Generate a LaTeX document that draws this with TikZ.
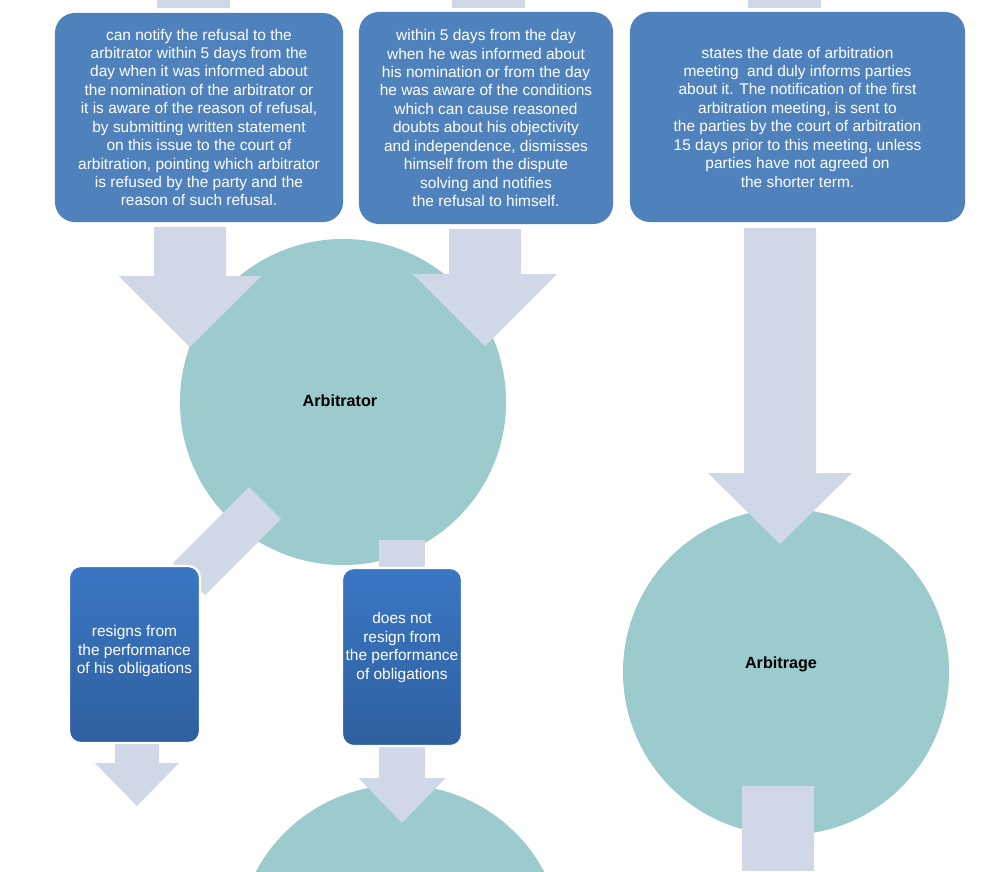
\documentclass[tikz,border=0pt]{standalone}
\usepackage{fontspec}
\setmainfont{Liberation Sans}
\usepackage{tikz}
\usetikzlibrary{shapes,positioning,calc}
\definecolor{boxblue}{HTML}{4F81BD}
\definecolor{circteal}{HTML}{9BCBCC}
\definecolor{arrowgrey}{HTML}{D0D8E7}
\definecolor{gradtop}{HTML}{3A77C4}
\definecolor{gradbot}{HTML}{2F5F9F}
\tikzstyle{stepbox} = [rectangle, rounded corners=0.5cm, fill=boxblue, text=white, align=center, inner sep=0pt, font=\fontsize{11}{13.1}\selectfont]
\tikzstyle{choice}  = [rectangle, rounded corners=0.3cm, top color=gradtop, bottom color=gradbot, draw=white, line width=1.5pt, text=white, align=center, inner sep=0pt, font=\fontsize{11}{13.1}\selectfont]
\tikzstyle{stage}   = [circle, fill=circteal, minimum size=8.15cm, inner sep=0pt, font=\fontsize{11.5}{13}\selectfont\bfseries]
\tikzstyle{arrowfill} = [fill=arrowgrey]
\newcommand{\blockdown}[6]{\fill[arrowfill] (#1-#2,#3) -- (#1+#2,#3) -- (#1+#2,#4) -- (#1+#5,#4) -- (#1,#6) -- (#1-#5,#4) -- (#1-#2,#4) -- cycle;}

\begin{document}
\begin{tikzpicture}[x=0.025cm, y=-0.025cm]
        \clip (0,0) rectangle (1000,871);
        \fill[white] (0,0) rectangle (1000,871);
        \foreach \x in {157,452,748}
        {
            \fill[arrowfill] (\x,0) rectangle (\x+73,8);
        }
        \node[stage] (arbitrator) at (343,402) {};
        \node at (340,401) (arbitratortxt) {\fontsize{11.5}{13}\selectfont\bfseries Arbitrator};
        \node[stage] (arbitrage) at (786,672) {};
        \node at (781,664) (arbitragetxt) {\fontsize{11.5}{13}\selectfont\bfseries Arbitrage};
        \node[stage] (next) at (400,948) {};
        \fill[arrowfill] (742,786) rectangle (814,871);

        \blockdown{190}{36}{227}{276}{71.5}{347}
        \blockdown{485}{36}{229}{274}{72}{346}
        \blockdown{780}{36}{228}{473}{72}{544}
        \fill[arrowfill] (249,487) -- (281,519) -- (205,595) -- (173,563) -- cycle;
        \fill[arrowfill] (379,540) rectangle (425,580);
        \blockdown{137}{22}{735}{763}{42}{806}
        \blockdown{402}{23}{735}{778}{43.5}{823}

        \node[stepbox, minimum width=7.2cm, minimum height=5.225cm] (refusal) at (199,117.5) {can notify the refusal to the\\arbitrator within 5 days from the\\day when it was informed about\\the nomination of the arbitrator or\\it is aware of the reason of refusal,\\by submitting written statement\\on this issue to the court of\\arbitration, pointing which arbitrator\\is refused by the party and the\\reason of such refusal.};
        \node[stepbox, minimum width=6.35cm, minimum height=5.3cm] (dismiss) at (486,118) {within 5 days from the day\\when he was informed about\\his nomination or from the day\\he was aware of the conditions\\which can cause reasoned\\doubts about his objectivity\\and independence, dismisses\\himself from the dispute\\solving and notifies\\the refusal to himself.};
        \node[stepbox, minimum width=8.375cm, minimum height=5.25cm] (meeting) at (797.5,117) {states the date of arbitration\\meeting\ \ and duly informs parties\\about it. The notification of the first\\arbitration meeting, is sent to\\the parties by the court of arbitration\\15 days prior to this meeting, unless\\parties have not agreed on\\the shorter term.};
        \node[choice, minimum width=3.275cm, minimum height=4.425cm] (resigns) at (134.5,654.5) {resigns from\\the performance\\of his obligations\\[-0.21cm]};
        \node[choice, minimum width=3.0cm, minimum height=4.45cm] (stays) at (402,657) {does not\\resign from\\the performance\\of obligations\\[0.09cm]};
    \end{tikzpicture}
\end{document}
